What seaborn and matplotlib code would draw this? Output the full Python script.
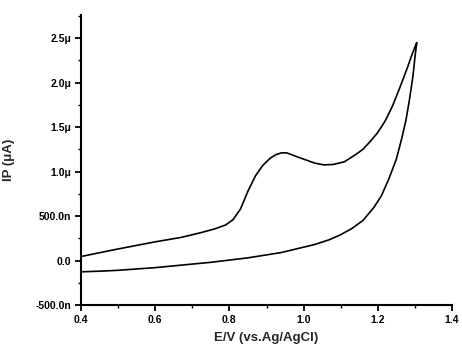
import numpy as np
import pandas as pd
import matplotlib
matplotlib.use("Agg")
import matplotlib.pyplot as plt
import seaborn as sns
from matplotlib.ticker import MultipleLocator, FuncFormatter

# Forward scan (upper branch), potential in V, current in microamperes
E_fwd = [0.40, 0.50, 0.60, 0.67, 0.72, 0.76, 0.79, 0.81, 0.83, 0.85, 0.87, 0.89,
         0.91, 0.925, 0.94, 0.955, 0.98, 1.00, 1.03, 1.055, 1.08, 1.11, 1.14, 1.16,
         1.18, 1.20, 1.22, 1.24, 1.26, 1.28, 1.29, 1.30, 1.305]
I_fwd = [0.045, 0.13, 0.21, 0.26, 0.31, 0.355, 0.40, 0.46, 0.58, 0.78, 0.95, 1.07,
         1.15, 1.19, 1.21, 1.21, 1.17, 1.14, 1.095, 1.075, 1.08, 1.11, 1.19, 1.25,
         1.34, 1.44, 1.57, 1.74, 1.95, 2.17, 2.29, 2.40, 2.45]
# Reverse scan (lower branch)
E_rev = [1.305, 1.30, 1.295, 1.285, 1.276, 1.265, 1.25, 1.23, 1.21, 1.19,
         1.16, 1.13, 1.10, 1.07, 1.03, 1.00, 0.94, 0.85, 0.75, 0.70, 0.60, 0.50,
         0.45, 0.40]
I_rev = [2.45, 2.28, 2.08, 1.80, 1.58, 1.38, 1.14, 0.92, 0.73, 0.60,
         0.45, 0.36, 0.29, 0.235, 0.18, 0.15, 0.09, 0.03, -0.02, -0.04, -0.08, -0.11,
         -0.12, -0.127]

x_label = "E/V (vs.Ag/AgCl)"
y_label = "IP (\u03bcA)"

df = pd.DataFrame({"E": E_fwd + E_rev[1:], "I": I_fwd + I_rev[1:]})

sns.set_style("ticks")
plt.rcParams["font.family"] = ["Liberation Sans", "DejaVu Sans"]
plt.rcParams["font.weight"] = "bold"

fig = plt.figure(figsize=(4.62, 3.53), dpi=100)
ax = fig.add_axes([81 / 462, 1 - 305 / 353, (452 - 81) / 462, (305 - 15) / 353])

sns.lineplot(data=df, x="E", y="I", sort=False, estimator=None, ax=ax,
             color="black", linewidth=1.2)

ax.set_xlim(0.4, 1.4)
ax.set_ylim(-0.5, 2.76)
ax.xaxis.set_major_locator(MultipleLocator(0.2))
ax.xaxis.set_minor_locator(MultipleLocator(0.1))
ax.yaxis.set_major_locator(MultipleLocator(0.5))
ax.yaxis.set_minor_locator(MultipleLocator(0.25))


def yfmt(v, pos):
    if abs(v) < 1e-9:
        return "0.0"
    if abs(v) < 1:
        return f"{v * 1000:.1f}n"
    return f"{v:.1f}\u03bc"


ax.yaxis.set_major_formatter(FuncFormatter(yfmt))
ax.xaxis.set_major_formatter(FuncFormatter(lambda v, p: f"{v:.1f}"))

for s in ["top", "right"]:
    ax.spines[s].set_visible(False)
for s in ["left", "bottom"]:
    ax.spines[s].set_linewidth(1.5)
    ax.spines[s].set_color("black")

ax.tick_params(which="major", direction="out", length=4, width=1.3,
               labelsize=7.5, pad=3, colors="black")
ax.tick_params(which="minor", direction="out", length=2.5, width=1.0, colors="black")
for lbl in ax.get_xticklabels() + ax.get_yticklabels():
    lbl.set_fontweight("bold")

ax.set_xlabel(x_label, fontsize=9.5, fontweight="bold", labelpad=5)
ax.set_ylabel(y_label, fontsize=9.5, fontweight="bold", va="center")
ax.yaxis.set_label_coords((9 - 81) / 371, 0.5)

fig.savefig("out.png", dpi=100)
